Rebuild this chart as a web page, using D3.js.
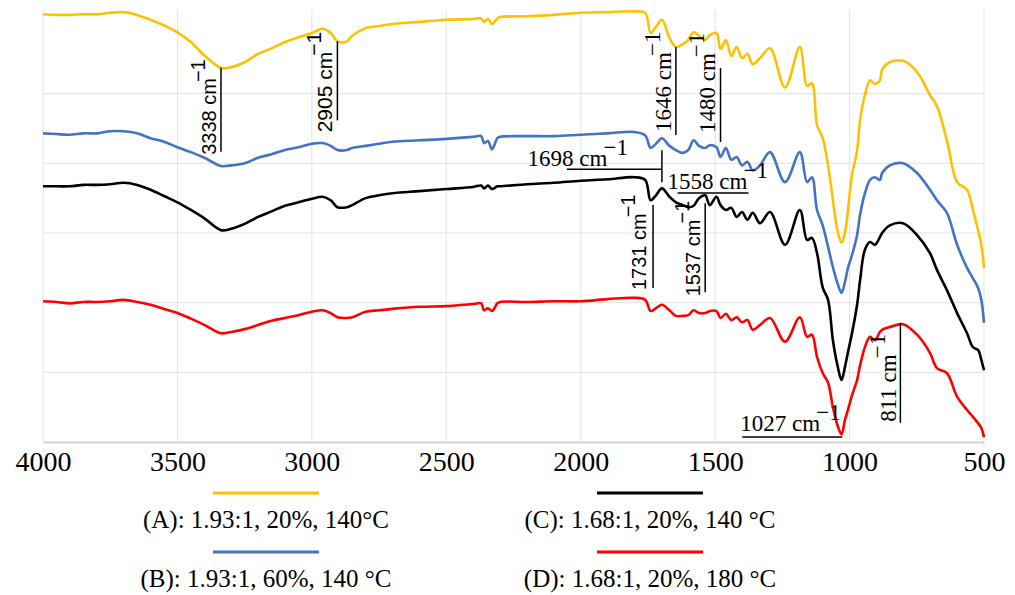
<!DOCTYPE html>
<html>
<head>
<meta charset="utf-8">
<script src="https://cdn.jsdelivr.net/npm/d3@7"></script>
<style>
  body { margin: 0; background: #fff; }
  svg { display: block; }
</style>
</head>
<body>
<script>
// wavenumbers (cm-1) shared by all four spectra
var wavenumbers = [
  4000, 3950, 3900, 3850, 3800, 3750, 3700, 3650, 3600, 3550,
  3500, 3450, 3400, 3338, 3300, 3250, 3200, 3150, 3100, 3050,
  3000, 2960, 2930, 2905, 2870, 2850, 2800, 2750, 2700, 2600,
  2500, 2400, 2370, 2360, 2345, 2330, 2310, 2300, 2200, 2100,
  2000, 1900, 1800, 1760, 1740, 1720, 1698, 1670, 1646, 1620,
  1600, 1580, 1560, 1537, 1520, 1495, 1480, 1460, 1440, 1420,
  1400, 1380, 1360, 1333, 1296, 1240, 1185, 1158, 1140, 1121,
  1100, 1080, 1062, 1045, 1030, 1017, 1006, 991, 972, 961,
  943, 924, 906, 887, 879, 850, 801, 749, 701, 675,
  638, 600, 563, 541, 522, 510, 500
];

// transmittance (offset, a.u.)
var seriesA = [
  61.4, 61.3, 61.3, 61.4, 61.4, 61.6, 61.7, 61.3, 60.6, 59.8,
  58.8, 57.4, 55.5, 53.7, 53.8, 54.5, 55.7, 56.5, 57.4, 58.1,
  58.7, 59.3, 58.7, 57.5, 57.5, 58.3, 59.4, 59.7, 60.0, 60.3,
  60.6, 60.7, 60.8, 60.3, 60.7, 60.0, 60.8, 61.0, 61.1, 61.3,
  61.6, 61.7, 61.8, 61.6, 58.7, 59.6, 60.6, 58.0, 56.7, 57.1,
  57.7, 58.8, 58.3, 57.7, 58.4, 58.7, 56.4, 57.7, 55.4, 56.7,
  55.1, 55.7, 54.2, 55.1, 56.5, 50.9, 56.7, 51.1, 51.5, 45.5,
  43.6, 39.7, 34.7, 30.4, 28.6, 30.1, 33.3, 38.3, 41.9, 46.2,
  49.8, 51.9, 51.4, 51.9, 53.4, 54.5, 54.7, 53.1, 49.8, 48.2,
  43.3, 37.3, 36.2, 33.3, 30.4, 28.3, 25.0
];
var seriesB = [
  44.3, 44.2, 44.1, 44.3, 44.3, 44.6, 44.6, 44.3, 43.6, 43.1,
  42.3, 41.6, 40.8, 39.6, 39.7, 40.0, 40.8, 41.3, 41.9, 42.3,
  42.8, 42.9, 42.5, 41.9, 41.9, 42.2, 42.5, 42.8, 43.1, 43.3,
  43.5, 43.8, 43.9, 42.9, 43.2, 42.0, 43.6, 43.8, 43.9, 43.9,
  44.1, 44.3, 44.5, 44.0, 42.2, 42.8, 43.6, 42.5, 41.9, 41.5,
  41.9, 43.3, 42.5, 42.2, 42.6, 42.3, 40.9, 42.2, 40.5, 40.9,
  39.7, 40.2, 39.0, 39.7, 41.6, 37.3, 41.6, 37.3, 38.0, 33.3,
  31.1, 28.0, 25.1, 22.8, 21.4, 23.0, 25.0, 26.8, 29.7, 32.6,
  35.7, 37.6, 38.0, 37.6, 38.6, 39.7, 40.0, 38.6, 36.2, 34.7,
  32.9, 28.3, 25.0, 23.5, 22.1, 20.4, 17.1
];
var seriesC = [
  36.7, 36.7, 36.7, 36.9, 36.9, 37.0, 37.2, 36.9, 36.2, 35.3,
  34.4, 33.3, 32.1, 30.4, 30.6, 31.3, 32.3, 33.1, 33.9, 34.4,
  34.9, 35.2, 34.7, 33.7, 33.7, 34.0, 35.0, 35.4, 35.7, 36.0,
  36.3, 36.6, 36.8, 36.4, 36.8, 36.3, 36.7, 36.7, 37.0, 37.2,
  37.5, 37.7, 38.0, 37.6, 34.7, 35.4, 36.4, 35.2, 34.4, 34.0,
  33.7, 33.9, 35.0, 35.4, 34.0, 35.2, 34.0, 33.3, 33.6, 32.3,
  33.0, 31.9, 32.9, 31.4, 33.0, 28.3, 33.3, 29.0, 29.3, 27.1,
  22.2, 20.4, 14.6, 11.0, 8.9, 10.8, 12.9, 15.6, 19.7, 23.2,
  27.6, 28.7, 28.3, 29.4, 30.0, 31.1, 31.4, 29.7, 27.1, 24.7,
  21.8, 18.5, 15.6, 13.6, 13.2, 11.8, 10.3
];
var seriesD = [
  20.2, 20.1, 19.9, 20.1, 20.1, 20.2, 20.4, 20.1, 19.7, 19.1,
  18.5, 17.7, 16.8, 15.6, 15.8, 16.2, 16.8, 17.4, 17.8, 18.2,
  18.7, 18.9, 18.5, 17.9, 17.8, 17.9, 18.7, 18.9, 19.1, 19.4,
  19.5, 19.8, 19.9, 18.9, 19.2, 18.8, 19.9, 20.1, 20.1, 20.2,
  20.2, 20.5, 20.7, 20.4, 18.8, 19.2, 19.7, 18.9, 18.1, 18.1,
  18.2, 18.9, 18.5, 18.5, 18.8, 18.8, 17.8, 18.4, 17.5, 17.9,
  17.2, 17.5, 16.1, 16.8, 17.8, 14.4, 17.9, 15.1, 15.4, 12.2,
  9.9, 8.5, 5.0, 2.4, 1.1, 3.2, 4.6, 6.7, 8.9, 11.0,
  13.6, 15.1, 14.6, 15.8, 16.1, 16.5, 16.9, 15.4, 12.8, 10.6,
  9.9, 6.5, 4.6, 3.6, 2.7, 2.0, 0.7
];

var seriesNames = ["A", "B", "C", "D"];
var seriesLabels = [
  "(A): 1.93:1, 20%, 140\u00b0C",
  "(B): 1.93:1, 60%, 140 \u00b0C",
  "(C): 1.68:1, 20%, 140 \u00b0C",
  "(D): 1.68:1, 20%, 180 \u00b0C"
];
var xTicks = [4000, 3500, 3000, 2500, 2000, 1500, 1000, 500];
var yGrid = [10, 20, 30, 40, 50];

// marked peaks
var peakWn = [3338, 2905, 1646, 1480, 1698, 1558, 1731, 1537, 1027, 811];

var colors = { A: "#ffc000", B: "#4472c4", C: "#000000", D: "#ff0000" };
var values = { A: seriesA, B: seriesB, C: seriesC, D: seriesD };

var SANS = "'Liberation Sans', Arial, sans-serif";
var SERIF = "'Liberation Serif', 'Times New Roman', serif";

var w = 1015, h = 595;
var svg = d3.select("body").append("svg")
    .attr("width", w)
    .attr("height", h);

var x = d3.scaleLinear().domain([4000, 500]).range([43, 984]);
var y = d3.scaleLinear().domain([0, 62]).range([442, 10]);

//grid
svg.append("g").selectAll("line").data(yGrid).enter().append("line")
    .attr("x1", x(4000)).attr("x2", x(500))
    .attr("y1", function(d){ return y(d); })
    .attr("y2", function(d){ return y(d); })
    .style("stroke", "#e3e3e3").style("stroke-width", 1);
svg.append("g").selectAll("line").data(xTicks).enter().append("line")
    .attr("x1", function(d){ return x(d); })
    .attr("x2", function(d){ return x(d); })
    .attr("y1", y(62)).attr("y2", y(0))
    .style("stroke", "#e3e3e3").style("stroke-width", 1);

//x axis
var xAxis = svg.append("g")
    .attr("transform", "translate(0," + y(0) + ")")
    .call(d3.axisBottom(x).tickValues(xTicks).tickSize(0).tickPadding(9).tickFormat(d3.format("d")))
    .attr("font-family", SERIF)
    .attr("font-size", 28);
xAxis.select(".domain").style("stroke", "#d4d4d4").style("stroke-width", 2);
xAxis.selectAll("text")
    .style("font-family", SERIF)
    .style("font-size", "28px")
    .style("fill", "#000");

//spectra
var line = d3.line()
    .x(function(d){ return x(d[0]); })
    .y(function(d){ return y(d[1]); })
    .curve(d3.curveCatmullRom.alpha(0.5));

seriesNames.forEach(function(s){
    var pts = wavenumbers.map(function(wn, i){ return [wn, values[s][i]]; });
    svg.append("path")
        .datum(pts)
        .attr("d", line)
        .style("fill", "none")
        .style("stroke", colors[s])
        .style("stroke-width", 2.6)
        .style("stroke-linejoin", "round");
});

//value of a series at a wavenumber (linear between read points)
function valueAt(s, wn){
    for (var i = 0; i < wavenumbers.length - 1; i++){
        var a = wavenumbers[i], b = wavenumbers[i + 1];
        if (wn <= a && wn >= b){
            var t = (a - wn) / (a - b);
            return values[s][i] + t * (values[s][i + 1] - values[s][i]);
        }
    }
    return values[s][0];
}

//peak annotations: vertical ones (rotated text) and horizontal ones
var vMarks = [
    { wn: peakWn[0], s: "A", gap: 0,  len: 84,  tx: -5, ty: 3,  font: SANS,  size: 20 },
    { wn: peakWn[1], s: "A", gap: 0,  len: 79,  tx: -5, ty: 12, font: SANS,  size: 21 },
    { wn: peakWn[2], s: "A", gap: 0,  len: 88,  tx: -5, ty: -3, font: SERIF, size: 23 },
    { wn: peakWn[3], s: "A", gap: 19, len: 74,  tx: -6, ty: -9, font: SERIF, size: 23 },
    { wn: peakWn[6], s: "C", gap: 7,  len: 83,  tx: -7, ty: 2,  font: SANS,  size: 20 },
    { wn: peakWn[7], s: "C", gap: 8,  len: 89,  tx: -5, ty: 4,  font: SANS,  size: 20 },
    { wn: peakWn[9], s: "D", gap: -2, len: 100, tx: -4, ty: -1, font: SERIF, size: 23 }
];
vMarks.forEach(function(m){
    var px = x(m.wn), top = y(valueAt(m.s, m.wn)) + m.gap, bot = top + m.len;
    svg.append("line")
        .attr("x1", px).attr("x2", px).attr("y1", top).attr("y2", bot)
        .style("stroke", "#000").style("stroke-width", 1.5);
    var t = svg.append("text")
        .attr("transform", "translate(" + (px + m.tx) + "," + (bot + m.ty) + ") rotate(-90)")
        .style("font-family", m.font)
        .style("font-size", m.size + "px")
        .style("fill", "#000");
    t.append("tspan").text(m.wn + " cm");
    t.append("tspan").attr("dx", -4).attr("dy", -11).text("\u22121");
});

var hMarks = [
    { wn: peakWn[4], s: "C", off: -19, x1: -95, x2: 0,   tickUp: -19, tickDn: 13, tx: -34, ty: -3, anchor: "end" },
    { wn: peakWn[5], s: "C", off: -5,  x1: -22, x2: 49,  tickUp: 0,   tickDn: 0,  tx: -32, ty: -4, anchor: "start" },
    { wn: peakWn[8], s: "D", off: 6,   x1: -100, x2: 0,  tickUp: 0,   tickDn: 0,  tx: -102, ty: -6, anchor: "start" }
];
hMarks.forEach(function(m){
    var px = x(m.wn), ly = y(valueAt(m.s, m.wn)) + m.off;
    svg.append("line")
        .attr("x1", px + m.x1).attr("x2", px + m.x2).attr("y1", ly).attr("y2", ly)
        .style("stroke", "#000").style("stroke-width", 1.5);
    if (m.tickUp !== m.tickDn){
        svg.append("line")
            .attr("x1", px).attr("x2", px).attr("y1", ly + m.tickUp).attr("y2", ly + m.tickDn)
            .style("stroke", "#000").style("stroke-width", 1.5);
    }
    var t = svg.append("text")
        .attr("x", px + m.tx).attr("y", ly + m.ty)
        .attr("text-anchor", m.anchor)
        .style("font-family", SERIF)
        .style("font-size", "23px")
        .style("fill", "#000");
    t.append("tspan").text(m.wn + " cm");
    t.append("tspan").attr("dx", -4).attr("dy", -11).text("\u22121");
});

//legend, two columns
var legendX = [266, 650], legendY = [493, 552];
seriesNames.forEach(function(s, i){
    var cx = legendX[i < 2 ? 0 : 1], ry = legendY[i % 2];
    svg.append("line")
        .attr("x1", cx - 53).attr("x2", cx + 53)
        .attr("y1", ry).attr("y2", ry)
        .style("stroke", colors[s]).style("stroke-width", 3);
    svg.append("text")
        .attr("x", cx).attr("y", ry + 35)
        .attr("text-anchor", "middle")
        .style("font-family", SERIF)
        .style("font-size", "25px")
        .style("fill", "#000")
        .text(seriesLabels[i]);
});
</script>
</body>
</html>
